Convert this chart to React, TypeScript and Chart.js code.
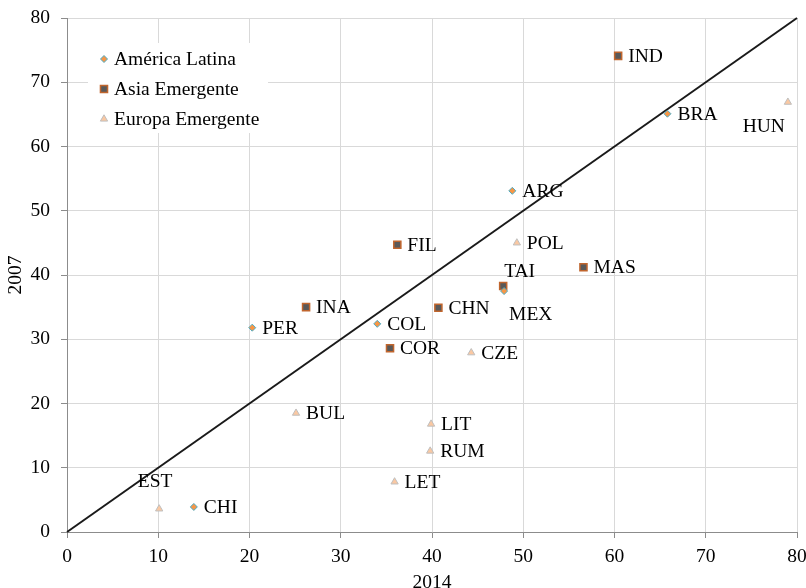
import { useEffect, useRef } from 'react';
import { Chart, registerables } from 'chart.js';

Chart.register(...registerables);

// ---- Data ----
const seriesNames = ['América Latina', 'Asia Emergente', 'Europa Emergente'];

const latamCodes = ['PER', 'COL', 'ARG', 'BRA', 'MEX', 'CHI'];
const latam2014 = [20.3, 34.0, 48.8, 65.8, 47.9, 13.9];
const latam2007 = [31.8, 32.4, 53.1, 65.1, 37.5, 3.9];

const asiaCodes = ['IND', 'FIL', 'INA', 'CHN', 'COR', 'TAI', 'MAS'];
const asia2014 = [60.4, 36.2, 26.2, 40.7, 35.4, 47.8, 56.6];
const asia2007 = [74.1, 44.7, 35.0, 34.9, 28.6, 38.3, 41.2];

const europeCodes = ['HUN', 'POL', 'CZE', 'BUL', 'LIT', 'RUM', 'LET', 'EST'];
const europe2014 = [79.0, 49.3, 44.3, 25.1, 39.9, 39.8, 35.9, 10.1];
const europe2007 = [66.9, 45.0, 27.9, 18.5, 16.8, 12.6, 7.8, 3.6];

const refLineX = [0, 80];
const refLineY = [0, 80];

const axisMin = 0;
const axisMax = 80;
const axisStep = 10;
const xTitle = '2014';
const yTitle = '2007';

// ---- Styles ----
const FONT_FAMILY = '"Liberation Serif", "Times New Roman", serif';
const FONT_SIZE = 19.5;

const seriesStyles = [
  { pointStyle: 'rectRot', radius: 3.5, fill: '#F79646', stroke: '#4BACC6', width: 1 },
  { pointStyle: 'rect', radius: 5, fill: '#595959', stroke: '#C0652D', width: 1.5 },
  { pointStyle: 'triangle', radius: 4.2, fill: '#FAC8A2', stroke: '#BFBFBF', width: 1 },
];

const labelPlacement: Record<string, string> = {
  EST: 'above',
  TAI: 'aboveRight',
  MEX: 'belowRight',
  HUN: 'belowLeft',
};

function toPoints(xs: number[], ys: number[]) {
  return xs.map((x, i) => ({ x, y: ys[i] }));
}

function drawMarker(ctx: CanvasRenderingContext2D, style: string, x: number, y: number, r: number) {
  ctx.beginPath();
  if (style === 'rectRot') {
    ctx.moveTo(x, y - r);
    ctx.lineTo(x + r, y);
    ctx.lineTo(x, y + r);
    ctx.lineTo(x - r, y);
    ctx.closePath();
  } else if (style === 'rect') {
    const s = Math.SQRT1_2 * r;
    ctx.rect(x - s, y - s, 2 * s, 2 * s);
  } else {
    const h = r;
    ctx.moveTo(x, y - h);
    ctx.lineTo(x + Math.sin((2 * Math.PI) / 3) * h, y + h / 2);
    ctx.lineTo(x - Math.sin((2 * Math.PI) / 3) * h, y + h / 2);
    ctx.closePath();
  }
  ctx.fill();
  ctx.stroke();
}

const pointLabelPlugin = {
  id: 'pointLabels',
  afterDatasetsDraw(chart: any) {
    const ctx: CanvasRenderingContext2D = chart.ctx;
    ctx.save();
    ctx.font = `${FONT_SIZE}px ${FONT_FAMILY}`;
    ctx.fillStyle = '#000';
    ctx.textBaseline = 'middle';
    chart.data.datasets.forEach((ds: any, i: number) => {
      if (!ds.codes) return;
      const meta = chart.getDatasetMeta(i);
      meta.data.forEach((el: any, j: number) => {
        const code = ds.codes[j];
        const p = labelPlacement[code] || 'right';
        let tx = el.x + 10;
        let ty = el.y + 1;
        ctx.textAlign = 'left';
        if (p === 'above') {
          ctx.textAlign = 'center';
          tx = el.x - 4;
          ty = el.y - 27;
        } else if (p === 'aboveRight') {
          tx = el.x + 1;
          ty = el.y - 14;
        } else if (p === 'belowRight') {
          tx = el.x + 5;
          ty = el.y + 24;
        } else if (p === 'belowLeft') {
          ctx.textAlign = 'right';
          tx = el.x - 3;
          ty = el.y + 25;
        }
        ctx.fillText(code, tx, ty);
      });
    });
    ctx.restore();
  },
};

const legendPlugin = {
  id: 'boxLegend',
  afterDatasetsDraw(chart: any) {
    const ctx: CanvasRenderingContext2D = chart.ctx;
    const area = chart.chartArea;
    const boxX = area.left + 21;
    const boxY = area.top + 25;
    ctx.save();
    ctx.fillStyle = '#ffffff';
    ctx.fillRect(boxX, boxY, 180, 90);
    ctx.font = `${FONT_SIZE}px ${FONT_FAMILY}`;
    ctx.textBaseline = 'middle';
    ctx.textAlign = 'left';
    seriesNames.forEach((name, i) => {
      const st = seriesStyles[i];
      const my = boxY + 16 + i * 30;
      const mx = boxX + 16;
      ctx.fillStyle = st.fill;
      ctx.strokeStyle = st.stroke;
      ctx.lineWidth = st.width;
      drawMarker(ctx, st.pointStyle, mx, my, st.radius);
      ctx.fillStyle = '#000';
      ctx.fillText(name, mx + 10, my + 1);
    });
    ctx.restore();
  },
};

function zeroPadding(scale: any) {
  scale.paddingTop = 0;
  scale.paddingBottom = 0;
  scale.paddingLeft = 0;
  scale.paddingRight = 0;
}

export default function App() {
  const canvasRef = useRef<HTMLCanvasElement | null>(null);

  useEffect(() => {
    if (!canvasRef.current) return;
    const makeSeries = (i: number, xs: number[], ys: number[], codes: string[]) => {
      const st = seriesStyles[i];
      return {
        label: seriesNames[i],
        codes,
        data: toPoints(xs, ys),
        pointStyle: st.pointStyle,
        pointRadius: st.radius,
        pointHoverRadius: st.radius,
        backgroundColor: st.fill,
        borderColor: st.stroke,
        pointBorderWidth: st.width,
        borderWidth: st.width,
        showLine: false,
      };
    };
    const tickFont = { family: FONT_FAMILY, size: FONT_SIZE };
    const chart = new Chart(canvasRef.current, {
      type: 'scatter',
      data: {
        datasets: [
          makeSeries(0, latam2014, latam2007, latamCodes),
          makeSeries(1, asia2014, asia2007, asiaCodes),
          makeSeries(2, europe2014, europe2007, europeCodes),
          {
            label: 'ref',
            data: toPoints(refLineX, refLineY),
            showLine: true,
            borderColor: '#1a1a1a',
            borderWidth: 2,
            pointRadius: 0,
            clip: false,
          } as any,
        ],
      },
      options: {
        animation: false,
        responsive: false,
        events: [],
        layout: { padding: { top: 18, right: 9, left: 0, bottom: 0 }, autoPadding: false } as any,
        plugins: {
          legend: { display: false },
          tooltip: { enabled: false },
        },
        scales: {
          x: {
            type: 'linear',
            min: axisMin,
            max: axisMax,
            ticks: { stepSize: axisStep, color: '#000', font: tickFont, padding: 7, maxRotation: 0 },
            grid: { color: '#d9d9d9', tickColor: '#8c8c8c', tickLength: 6, drawTicks: true },
            border: { color: '#8c8c8c', width: 1 },
            title: {
              display: true,
              text: xTitle,
              color: '#000',
              font: { family: FONT_FAMILY, size: FONT_SIZE, lineHeight: 1 },
              padding: { top: 0, bottom: -5 },
            },
            afterFit: (scale: any) => {
              scale.height = 56;
              zeroPadding(scale);
            },
          },
          y: {
            type: 'linear',
            min: axisMin,
            max: axisMax,
            ticks: { stepSize: axisStep, color: '#000', font: tickFont, padding: 11 },
            grid: { color: '#d9d9d9', tickColor: '#8c8c8c', tickLength: 6, drawTicks: true },
            border: { color: '#8c8c8c', width: 1 },
            title: {
              display: true,
              text: yTitle,
              color: '#000',
              font: { family: FONT_FAMILY, size: FONT_SIZE, lineHeight: 1 },
              padding: { top: 6, bottom: 0 },
            },
            afterFit: (scale: any) => {
              scale.width = 67;
              zeroPadding(scale);
            },
          },
        },
      } as any,
      plugins: [legendPlugin, pointLabelPlugin],
    });
    return () => chart.destroy();
  }, []);

  return (
    <div style={{ position: 'absolute', left: 0, top: 0, width: 806, height: 588, background: '#fff' }}>
      <canvas ref={canvasRef} width={806} height={588} style={{ display: 'block' }} />
    </div>
  );
}
